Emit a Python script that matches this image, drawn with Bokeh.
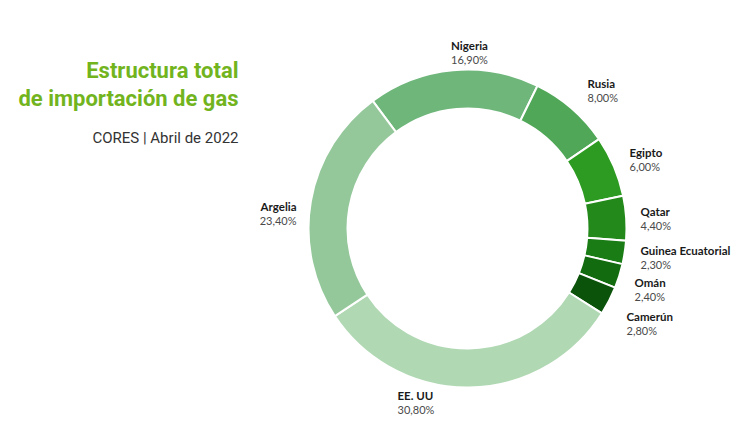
import numpy as np
from bokeh.plotting import figure
from bokeh.models import ColumnDataSource, Range1d
from bokeh.core.properties import value
from bokeh.embed import file_html
from bokeh.resources import INLINE

# ---- data ----
countries = ["Nigeria", "Rusia", "Egipto", "Qatar", "Guinea Ecuatorial",
             "Omán", "Camerún", "EE. UU", "Argelia"]
shares = [16.9, 8.0, 6.0, 4.4, 2.3, 2.4, 2.8, 30.8, 23.4]
share_labels = ["16,90%", "8,00%", "6,00%", "4,40%", "2,30%",
                "2,40%", "2,80%", "30,80%", "23,40%"]
colors = ["#6fb67b", "#4fa757", "#2d9b22", "#22891a", "#1a7c14",
          "#126b0e", "#0b530a", "#b0d8b3", "#94c89b"]

# ---- layout (pixels from top-left) ----
W, H = 750, 435
cx, cy = 467, 228
r_in, r_out = 120, 159
start_deg = 126.6  # math angle where first slice starts, going clockwise
label_x = [469, 587, 629, 640, 640, 634, 626, 397, 296]
label_y = [45, 83, 152, 211, 250, 282, 316, 395, 206]
label_align = ["center", "left", "left", "left", "left", "left", "left", "left", "right"]

vals = np.array(shares)
frac = vals / vals.sum() * 2 * np.pi
cum = np.concatenate([[0], np.cumsum(frac)])
a0 = np.deg2rad(start_deg)
starts = a0 - cum[1:]
ends = a0 - cum[:-1]

p = figure(width=W, height=H, x_range=Range1d(0, W), y_range=Range1d(0, H),
           x_axis_type=None, y_axis_type=None, toolbar_location=None,
           output_backend="svg", min_border=0)
p.outline_line_color = None
p.grid.visible = False
p.background_fill_color = "white"

src = ColumnDataSource(dict(start=starts, end=ends, color=colors))
p.annular_wedge(x=cx, y=H - cy, inner_radius=r_in, outer_radius=r_out,
                start_angle="start", end_angle="end", fill_color="color",
                line_color="white", line_width=2, source=src)

for name, pct, lx, ly, al in zip(countries, share_labels, label_x, label_y, label_align):
    p.text(x=[lx], y=[H - ly], text=[name], text_font=value("Lato"),
           text_font_size="11.5px", text_font_style="bold", text_color="#1a1a1a",
           text_align=al, text_baseline="middle")
    p.text(x=[lx], y=[H - ly - 14], text=[pct], text_font=value("Lato"),
           text_font_size="11px", text_color="#4a4a4a",
           text_align=al, text_baseline="middle")

# title
p.text(x=[238], y=[H - 70], text=["Estructura total"], text_font=value("Roboto"),
       text_font_size="22px", text_font_style="bold", text_color="#72b41e",
       text_align="right", text_baseline="middle")
p.text(x=[238], y=[H - 98], text=["de importación de gas"], text_font=value("Roboto"),
       text_font_size="22px", text_font_style="bold", text_color="#72b41e",
       text_align="right", text_baseline="middle")
p.text(x=[238], y=[H - 137], text=["CORES | Abril de 2022"], text_font=value("Roboto"),
       text_font_size="15px", text_color="#333333",
       text_align="right", text_baseline="middle")

open("out.html", "w").write(file_html(p, INLINE))
